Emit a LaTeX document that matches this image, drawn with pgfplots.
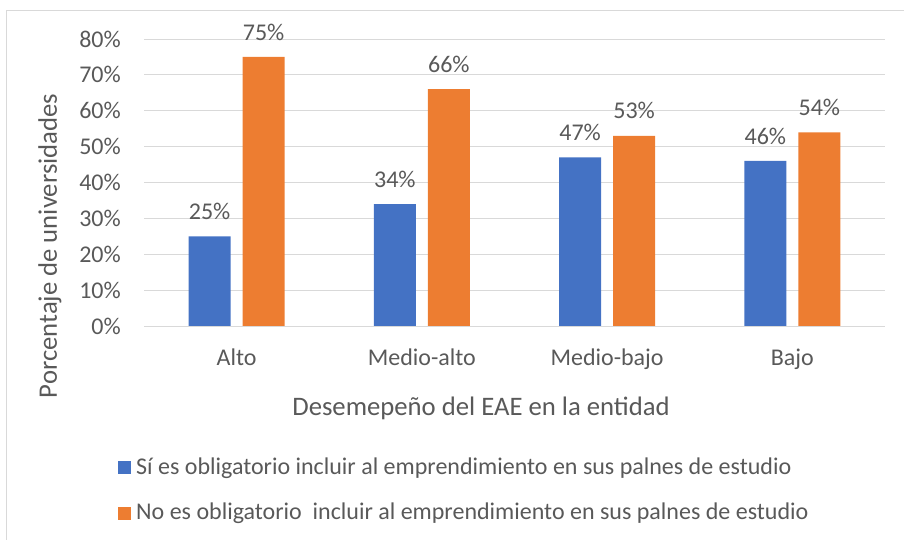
\documentclass[border=0pt]{standalone}
\usepackage{fontspec}
\setmainfont{Carlito}
\usepackage{pgfplots}
\pgfplotsset{compat=1.18}
\definecolor{sblue}{HTML}{4472C4}
\definecolor{sorange}{HTML}{ED7D31}
\definecolor{gridgray}{HTML}{D9D9D9}
\definecolor{txtgray}{HTML}{595959}

\begin{document}
\fontsize{24bp}{28bp}\selectfont
\begin{tikzpicture}
\path[use as bounding box] (0,0) rectangle (904bp,540bp);
\draw[gridgray, line width=0.8bp] (6bp,0) -- (6bp,530bp) -- (904bp,530bp);

\begin{axis}[
    at={(144bp,214bp)}, anchor=south west,
    scale only axis, width=741bp, height=287bp,
    xmin=-0.5, xmax=3.5, ymin=0, ymax=80,
    ybar=12bp, bar width=42bp,
    axis line style={draw=none},
    major tick length=0pt,
    ymajorgrids, grid style={gridgray, line width=0.8bp},
    xtick={0,1,2,3},
    xticklabels={Alto,Medio-alto,Medio-bajo,Bajo},
    ytick={0,10,...,80},
    yticklabel={\pgfmathprintnumber{\tick}\%},
    /pgf/number format/assume math mode=true,
    tick label style={font=\fontsize{24bp}{28bp}\selectfont, text=txtgray, inner sep=0pt},
    xticklabel style={anchor=base, yshift=-39bp},
    yticklabel style={anchor=east, xshift=-23bp},
    nodes near coords={\pgfmathprintnumber{\pgfplotspointmeta}\%},
    nodes near coords style={font=\fontsize{24bp}{28bp}\selectfont, text=txtgray, inner sep=0pt, anchor=center, yshift=25bp},
    legend cell align=left,
    legend style={at={(-0.0351,-0.573)}, anchor=west, draw=none, fill=none,
        inner sep=0pt, row sep=25bp,
        font=\fontsize{24bp}{28bp}\selectfont, text=txtgray,
        nodes={inner xsep=5bp, inner ysep=0pt}},
    legend image code/.code={\fill[#1] (0bp,-6.5bp) rectangle (13bp,6.5bp);},
]
\addplot[fill=sblue, draw=none] coordinates {(0,25) (1,34) (2,47) (3,46)};
\addplot[fill=sorange, draw=none] coordinates {(0,75) (1,66) (2,53) (3,54)};
\legend{S\'i es obligatorio incluir al emprendimiento en sus palnes de estudio,
        No es obligatorio\ \ incluir al emprendimiento en sus palnes de estudio}
\end{axis}

\node[text=txtgray, font=\fontsize{26.7bp}{32bp}\selectfont] at (481bp,132bp) {Desemepeño del EAE en la entidad};
\node[text=txtgray, font=\fontsize{26.7bp}{32bp}\selectfont, rotate=90] at (50bp,294bp) {Porcentaje de universidades};
\end{tikzpicture}
\end{document}
